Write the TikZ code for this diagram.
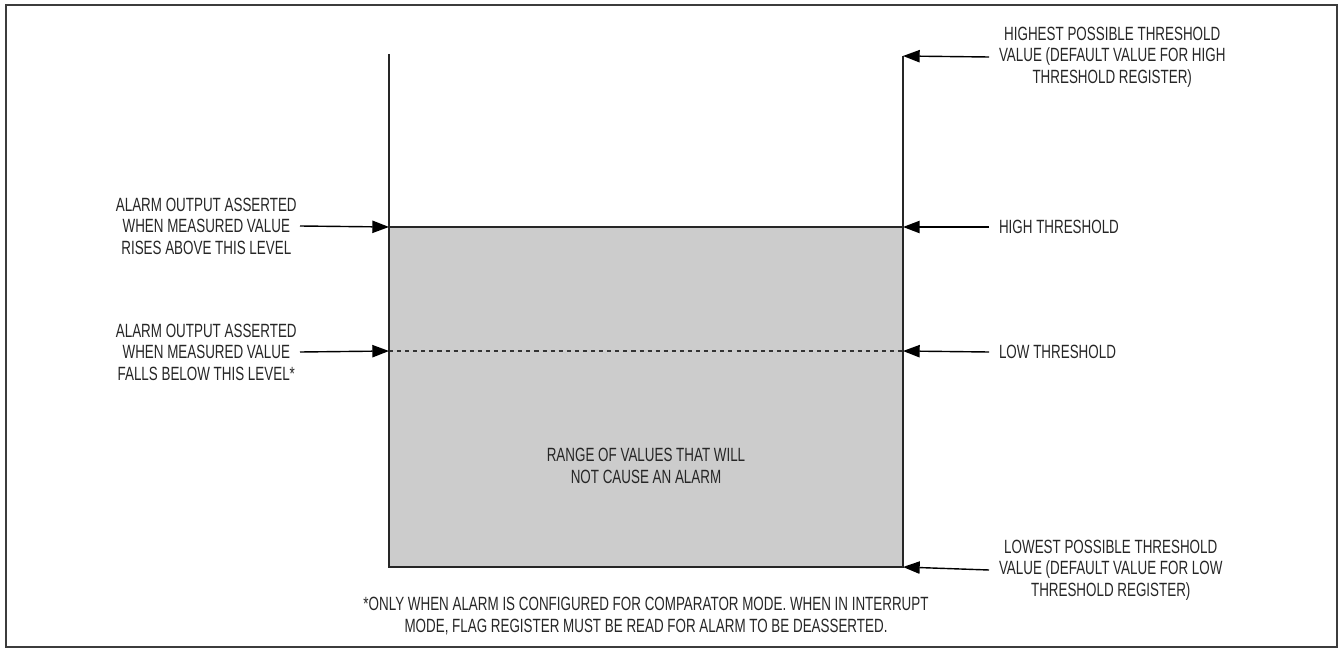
\documentclass[tikz,border=0pt]{standalone}
\usepackage{fontspec}
\setmainfont{Liberation Sans}[FakeStretch=0.70]
\usetikzlibrary{arrows.meta}
\definecolor{rangegray}{RGB}{204, 204, 204}
\definecolor{framegray}{RGB}{60, 60, 60}

\begin{document}
\begin{tikzpicture}[
    x=0.02cm, y=-0.02cm,
    lbl/.style={align=center, inner ysep=0pt, font=\fontsize{10.9}{12.2}\selectfont, text=black!85},
    leftlbl/.style={lbl, anchor=east, inner xsep=1.7pt},
    rightlbl/.style={lbl, anchor=west, inner xsep=5.5pt},
    arrow/.style={-{Triangle[length=9.5pt,width=7pt]}, line width=0.8pt},
    edge/.style={line width=0.9pt, black!85}
]
    \useasboundingbox (0,0) rectangle (1343,652);
    \draw[framegray, line width=1.2pt] (6,5) rectangle (1337,647);

    \coordinate (lefttop) at (389,54);
    \coordinate (righttop) at (903,56);
    \coordinate (highL) at (389,227);
    \coordinate (highR) at (903,227);
    \coordinate (lowL) at (389,351);
    \coordinate (lowR) at (903,351);
    \coordinate (bottomL) at (389,567);
    \coordinate (bottomR) at (903,567);

    \fill[rangegray] (highL) rectangle (bottomR);
    \draw[line width=0.6pt, dash pattern=on 2.3pt off 2.3pt, black!80] (lowL) -- (lowR);
    \draw[edge] (lefttop) -- (bottomL) -- (bottomR) -- (righttop);
    \draw[edge] (highL) -- (highR);

    \node[lbl] (range) at (646,466) {RANGE OF VALUES THAT WILL\\NOT CAUSE AN ALARM};

    \node[leftlbl] (assertHigh) at (300,226) {ALARM OUTPUT ASSERTED\\WHEN MEASURED VALUE\\RISES ABOVE THIS LEVEL};
    \node[leftlbl] (assertLow) at (300,352) {ALARM OUTPUT ASSERTED\\WHEN MEASURED VALUE\\FALLS BELOW THIS LEVEL*};

    \node[rightlbl] (highest) at (989,57) {HIGHEST POSSIBLE THRESHOLD\\VALUE (DEFAULT VALUE FOR HIGH\\THRESHOLD REGISTER)};
    \node[rightlbl] (highTh) at (989,227) {HIGH THRESHOLD};
    \node[rightlbl] (lowTh) at (989,352) {LOW THRESHOLD};
    \node[rightlbl] (lowest) at (989,570) {LOWEST POSSIBLE THRESHOLD\\VALUE (DEFAULT VALUE FOR LOW\\THRESHOLD REGISTER)};

    \node[lbl] (note) at (646,616) {*ONLY WHEN ALARM IS CONFIGURED FOR COMPARATOR MODE. WHEN IN INTERRUPT\\MODE, FLAG REGISTER MUST BE READ FOR ALARM TO BE DEASSERTED.};

    \draw[arrow] (assertHigh.east) -- (highL);
    \draw[arrow] (assertLow.east) -- (lowL);
    \draw[arrow] (highest.west) -- (righttop);
    \draw[arrow] (highTh.west) -- (highR);
    \draw[arrow] (lowTh.west) -- (lowR);
    \draw[arrow] (lowest.west) -- (bottomR);
\end{tikzpicture}
\end{document}
